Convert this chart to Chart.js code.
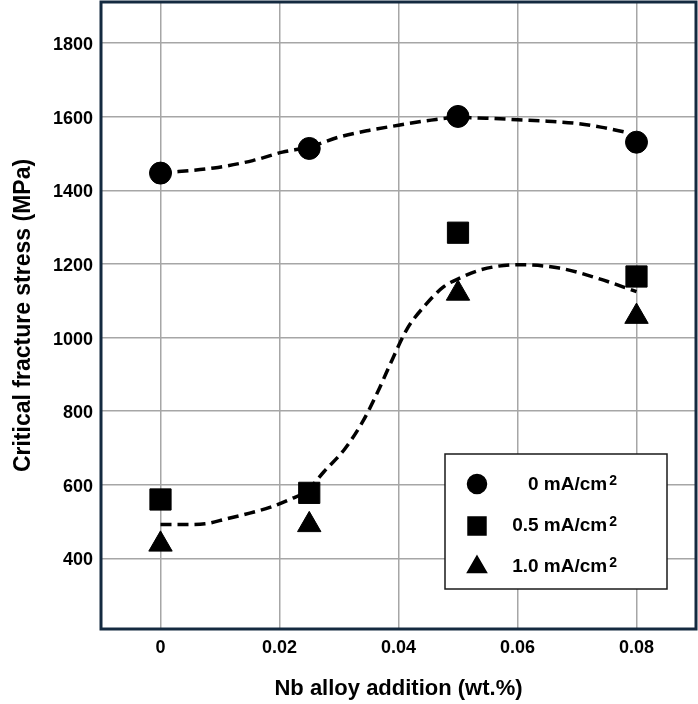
<!DOCTYPE html>
<html>
<head>
<meta charset="utf-8">
<script src="https://cdn.jsdelivr.net/npm/chart.js@4.4.1/dist/chart.umd.min.js"></script>
<style>
  html, body { margin: 0; padding: 0; background: #fff; }
</style>
</head>
<body>
<canvas id="chart" width="698" height="704"></canvas>
<script>
// Nb content of the tested alloys (wt.%)
const nbContent = [0, 0.025, 0.05, 0.08];

// Critical fracture stress (MPa) for each charging current density
const stress0mA = [1447, 1514, 1601, 1531];
const stress05mA = [560, 578, 1285, 1166];
const stress10mA = [438, 491, 1120, 1057];

// Dashed trend curves drawn through the data
const upperTrendX = [0, 0.009, 0.0155, 0.0205, 0.025, 0.03, 0.035, 0.04, 0.0455, 0.05, 0.055, 0.06, 0.065, 0.07, 0.074, 0.0785];
const upperTrendY = [1447, 1461, 1481, 1504, 1518, 1545, 1563, 1577, 1591, 1598, 1596, 1592, 1588, 1582, 1572, 1557];
const lowerTrendX = [0, 0.004, 0.0075, 0.011, 0.015, 0.0185, 0.022, 0.0245, 0.0275, 0.031, 0.034, 0.0365, 0.039, 0.0415, 0.0445, 0.0475, 0.0505, 0.054, 0.06, 0.067, 0.0735, 0.08];
const lowerTrendY = [492, 492, 494, 507, 523, 539, 562, 582, 636, 698, 772, 852, 942, 1025, 1088, 1137, 1163, 1185, 1198, 1189, 1161, 1125];

const xTicks = [0, 0.02, 0.04, 0.06, 0.08];
const yTicks = [400, 600, 800, 1000, 1200, 1400, 1600, 1800];

const legendLabels = ["0 mA/cm", "0.5 mA/cm", "1.0 mA/cm"];
const legendStyles = ["circle", "rect", "triangle"];

const FONT = "'Liberation Sans', Arial, sans-serif";
const INK = "#000000";

function toPoints(xs, ys) {
  return xs.map((x, i) => ({ x: x, y: ys[i] }));
}

function markerDataset(label, values, style, radius) {
  return {
    label: label,
    data: toPoints(nbContent, values),
    pointStyle: style,
    pointRadius: radius,
    pointHoverRadius: radius,
    backgroundColor: INK,
    borderColor: INK,
    borderWidth: 1,
    showLine: false,
    order: 0,
  };
}

function trendDataset(xs, ys) {
  return {
    data: toPoints(xs, ys),
    showLine: true,
    pointRadius: 0,
    borderColor: INK,
    borderWidth: 3.5,
    borderDash: [11, 6],
    cubicInterpolationMode: "monotone",
    fill: false,
    order: 1,
  };
}

// keep the plot box fixed: no extra room for edge labels
function fixPadding(scale) {
  scale.paddingTop = 0;
  scale.paddingBottom = 0;
  scale.paddingLeft = 0;
  scale.paddingRight = 0;
}

// Dark frame around the plot area
const framePlugin = {
  id: "frame",
  afterDraw(chart) {
    const { ctx, chartArea: a } = chart;
    ctx.save();
    ctx.strokeStyle = "#142a40";
    ctx.lineWidth = 3;
    ctx.strokeRect(a.left, a.top, a.right - a.left, a.bottom - a.top);
    ctx.restore();
  },
};

// Boxed legend inside the lower right of the plot
const boxLegendPlugin = {
  id: "boxLegend",
  afterDraw(chart) {
    const { ctx, chartArea: a } = chart;
    const boxRight = a.right - 29;
    const boxBottom = a.bottom - 40;
    const boxW = 222;
    const boxH = 135;
    const left = boxRight - boxW;
    const top = boxBottom - boxH;

    ctx.save();
    ctx.fillStyle = "#ffffff";
    ctx.fillRect(left, top, boxW, boxH);
    ctx.strokeStyle = "#1a1a1a";
    ctx.lineWidth = 1.5;
    ctx.strokeRect(left, top, boxW, boxH);

    const radii = [9.5, 12.7, 11];
    const markerY = [30, 72, 113];
    const baseY = [36, 77, 118];
    const textRight = left + 172;

    legendLabels.forEach((label, i) => {
      ctx.fillStyle = INK;
      ctx.strokeStyle = INK;
      Chart.helpers.drawPoint(ctx, {
        pointStyle: legendStyles[i],
        radius: radii[i],
        rotation: 0,
        borderWidth: 1,
      }, left + 32, top + markerY[i]);

      ctx.textAlign = "right";
      ctx.textBaseline = "alphabetic";
      ctx.font = "bold 14px " + FONT;
      ctx.fillText("2", textRight, top + baseY[i] - 5);
      const supW = ctx.measureText("2").width;
      ctx.font = "bold 19px " + FONT;
      ctx.fillText(label, textRight - supW - 2, top + baseY[i]);
    });
    ctx.restore();
  },
};

const ctx = document.getElementById("chart").getContext("2d");
new Chart(ctx, {
  type: "scatter",
  data: {
    datasets: [
      markerDataset("0 mA/cm2", stress0mA, "circle", 11),
      markerDataset("0.5 mA/cm2", stress05mA, "rect", 15),
      markerDataset("1.0 mA/cm2", stress10mA, "triangle", 13.5),
      trendDataset(upperTrendX, upperTrendY),
      trendDataset(lowerTrendX, lowerTrendY),
    ],
  },
  options: {
    responsive: false,
    animation: false,
    devicePixelRatio: 1,
    layout: {
      autoPadding: false,
      padding: { top: 2, right: 2, left: 0, bottom: 0 },
    },
    plugins: {
      legend: { display: false },
      tooltip: { enabled: false },
    },
    scales: {
      x: {
        type: "linear",
        min: -0.01,
        max: 0.09,
        afterBuildTicks: (scale) => {
          scale.ticks = xTicks.map((v) => ({ value: v }));
        },
        afterFit: (scale) => {
          scale.height = 75;
          fixPadding(scale);
        },
        grid: { color: "#a6a6a6", lineWidth: 1.5, drawTicks: false },
        border: { display: false },
        ticks: {
          padding: 8,
          color: INK,
          font: { family: FONT, size: 18, weight: "bold" },
          callback: (v) => (v === 0 ? "0" : v.toFixed(2)),
        },
        title: {
          display: true,
          text: "Nb alloy addition (wt.%)",
          color: INK,
          font: { family: FONT, size: 22, weight: "bold" },
          padding: { top: 0, bottom: 2 },
        },
      },
      y: {
        type: "linear",
        min: 208,
        max: 1912,
        afterBuildTicks: (scale) => {
          scale.ticks = yTicks.map((v) => ({ value: v }));
        },
        afterFit: (scale) => {
          scale.width = 101;
          fixPadding(scale);
        },
        grid: { color: "#a6a6a6", lineWidth: 1.5, drawTicks: false },
        border: { display: false },
        ticks: {
          padding: 8,
          labelOffset: 2,
          color: INK,
          font: { family: FONT, size: 18, weight: "bold" },
          callback: (v) => String(v),
        },
        title: {
          display: true,
          text: "Critical fracture stress (MPa)",
          color: INK,
          font: { family: FONT, size: 23, weight: "bold" },
          padding: { top: 10, bottom: 0 },
        },
      },
    },
  },
  plugins: [framePlugin, boxLegendPlugin],
});
</script>
</body>
</html>
